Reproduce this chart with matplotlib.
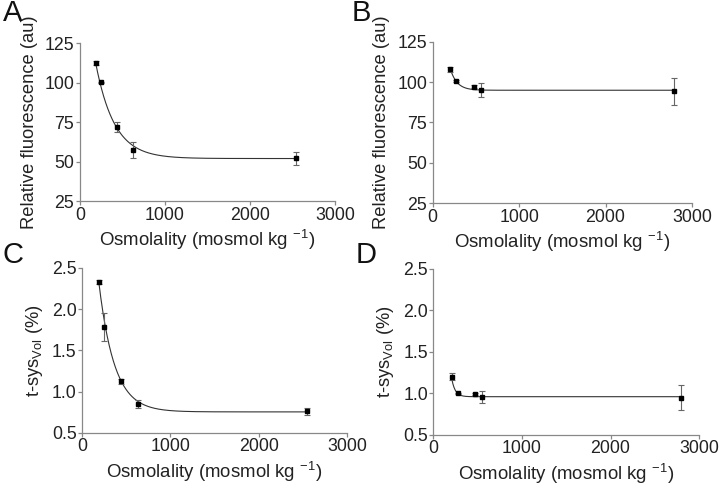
import numpy as np
import matplotlib
matplotlib.use("Agg")
import matplotlib.pyplot as plt

plt.rcParams['font.family'] = ['Liberation Sans', 'DejaVu Sans']
plt.rcParams['mathtext.fontset'] = 'custom'
plt.rcParams['mathtext.rm'] = 'Liberation Sans'
plt.rcParams['mathtext.it'] = 'Liberation Sans'

# panel A - relative fluorescence, hyperosmotic
osm_a = [185, 243, 431, 627, 2545]
fluo_a = [112.5, 100.3, 71.7, 57.2, 52.2]
err_a = [1.5, 0.5, 3.2, 5.0, 4.0]
fit_a = (52.0, 141.0, 0.00456)  # plateau, span, k

# panel B - relative fluorescence, control
osm_b = [205, 274, 475, 560, 2795]
fluo_b = [108.0, 100.6, 97.2, 95.2, 94.3]
err_b = [1.5, 0.5, 0.8, 4.5, 8.3]
fit_b = (95.0, 175.0, 0.0127)

# panel C - t-sys volume, hyperosmotic
osm_c = [189, 250, 446, 636, 2550]
tsys_c = [2.33, 1.78, 1.125, 0.85, 0.76]
err_c = [0.02, 0.17, 0.03, 0.05, 0.04]
fit_c = (0.755, 4.61, 0.00568)

# panel D - t-sys volume, control
osm_d = [206, 273, 468, 550, 2791]
tsys_d = [1.20, 1.00, 0.99, 0.96, 0.95]
err_d = [0.04, 0.01, 0.01, 0.07, 0.15]
fit_d = (0.96, 41.0, 0.0254)

x_ticks = [0, 1000, 2000, 3000]
fluo_ticks = [25, 50, 75, 100, 125]
tsys_ticks = [0.5, 1.0, 1.5, 2.0, 2.5]

x_label = 'Osmolality (mosmol kg $^{-1}$)'
fluo_label = 'Relative fluorescence (au)'
tsys_label = 't-sys$_{\\mathrm{Vol}}$ (%)'

# letter position in pixels (left, top)
panels = [
    ('A', (3, -1), [0.111, 0.587, 0.354, 0.324], osm_a, fluo_a, err_a, fit_a, fluo_ticks, fluo_label, '%d'),
    ('B', (352, -1), [0.601, 0.583, 0.360, 0.331], osm_b, fluo_b, err_b, fit_b, fluo_ticks, fluo_label, '%d'),
    ('C', (3, 241), [0.114, 0.111, 0.368, 0.339], osm_c, tsys_c, err_c, fit_c, tsys_ticks, tsys_label, '%.1f'),
    ('D', (356, 241), [0.602, 0.107, 0.369, 0.341], osm_d, tsys_d, err_d, fit_d, tsys_ticks, tsys_label, '%.1f'),
]

grey = '#888888'
txt = '#222222'
fig = plt.figure(figsize=(7.2, 4.87), dpi=100)

for letter, lpos, rect, xs, ys, es, fit, yt, ylab, fmt in panels:
    ax = fig.add_axes(rect)
    plateau, span, k = fit
    xx = np.linspace(xs[0], xs[-1], 400)
    ax.plot(xx, plateau + span * np.exp(-k * xx), color='#333333', lw=0.8, zorder=2)
    ax.errorbar(xs, ys, yerr=es, fmt='none', ecolor='#666666', elinewidth=0.8,
                capsize=2.5, capthick=0.8, zorder=3)
    ax.plot(xs, ys, 's', color='black', ms=3.2, zorder=4, clip_on=False)
    ax.set_xlim(0, 3000)
    ax.set_ylim(yt[0], yt[-1])
    ax.set_xticks(x_ticks)
    ax.set_yticks(yt)
    ax.set_yticklabels([fmt % v for v in yt])
    for s in ['top', 'right']:
        ax.spines[s].set_visible(False)
    for s in ['left', 'bottom']:
        ax.spines[s].set_color(grey)
        ax.spines[s].set_linewidth(0.9)
    ax.tick_params(colors=grey, labelcolor=txt, labelsize=12.8,
                   length=3, width=0.9, pad=1)
    ax.set_xlabel(x_label, fontsize=13.4, color=txt, labelpad=3)
    ax.set_ylabel(ylab, fontsize=13.2, color=txt, labelpad=5)
    fig.text(lpos[0] / 720, 1 - lpos[1] / 487, letter,
             fontsize=21, color='#111111', va='top', ha='left')

fig.savefig('out.png', dpi=100)
